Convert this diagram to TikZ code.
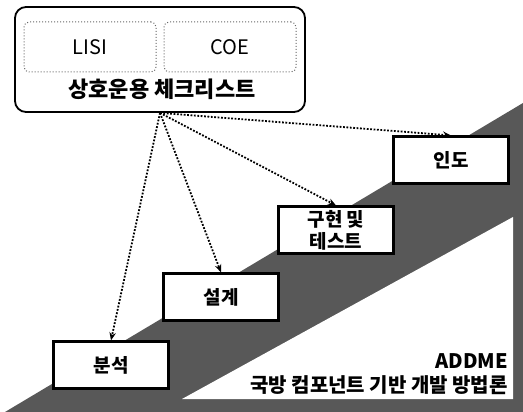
\documentclass[tikz,border=0pt]{standalone}
\usepackage{fontspec}
\setmainfont{Noto Sans CJK KR}
\usetikzlibrary{arrows.meta}

\definecolor{bandgray}{RGB}{88,88,88}

\tikzset{
   stepbox/.style  = {draw, fill=white, line width=2.2pt, minimum width=115pt, minimum height=47pt,
                      align=center, inner sep=2pt, font=\fontsize{19}{22}\selectfont\bfseries},
   checkbox/.style = {draw=gray!80!black, dotted, line width=1pt, rounded corners=5pt,
                      minimum width=132pt, minimum height=50pt, font=\fontsize{20}{22}\selectfont},
   link/.style     = {line width=1.8pt, dash pattern=on 1.8pt off 1.6pt, -{Stealth[length=8pt,width=6.5pt]}}
}

\begin{document}
\begin{tikzpicture}[x=1pt,y=-1pt]
   \useasboundingbox (0,0) rectangle (523,412);
   \fill [bandgray] (5,412) -- (523,103) -- (523,412) -- cycle;
   \fill [white   ] (182,399) -- (513,217) -- (513,399) -- cycle;

   \node (frame) [draw, line width=1.8pt, rounded corners=11pt, minimum width=290pt, minimum height=105pt] at (160,59.5) {};
   \node (lisi)  [checkbox] at (90,47)  {LISI};
   \node (coe)   [checkbox] at (230,47) {COE};
   \node (title) [font=\fontsize{22}{24}\selectfont\bfseries] at (162,89) {상호운용 체크리스트};

   \node (analysis) [stepbox] at (111,365) {분석};
   \node (design)   [stepbox] at (221,297) {설계};
   \node (impl)     [stepbox] at (336,230) {구현 및\\테스트};
   \node (deliver)  [stepbox] at (451,160) {인도};

   \draw [link] (frame.south) -- (analysis.north);
   \draw [link] (frame.south) -- (design.north);
   \draw [link] (frame.south) -- (impl.north);
   \draw [link] (frame.south) -- (deliver.north);

   \node (addme) [anchor=east, align=right, inner sep=0pt, font=\fontsize{20}{24}\selectfont\bfseries] at (508,374) {ADDME\\국방 컴포넌트 기반 개발 방법론};
\end{tikzpicture}
\end{document}
